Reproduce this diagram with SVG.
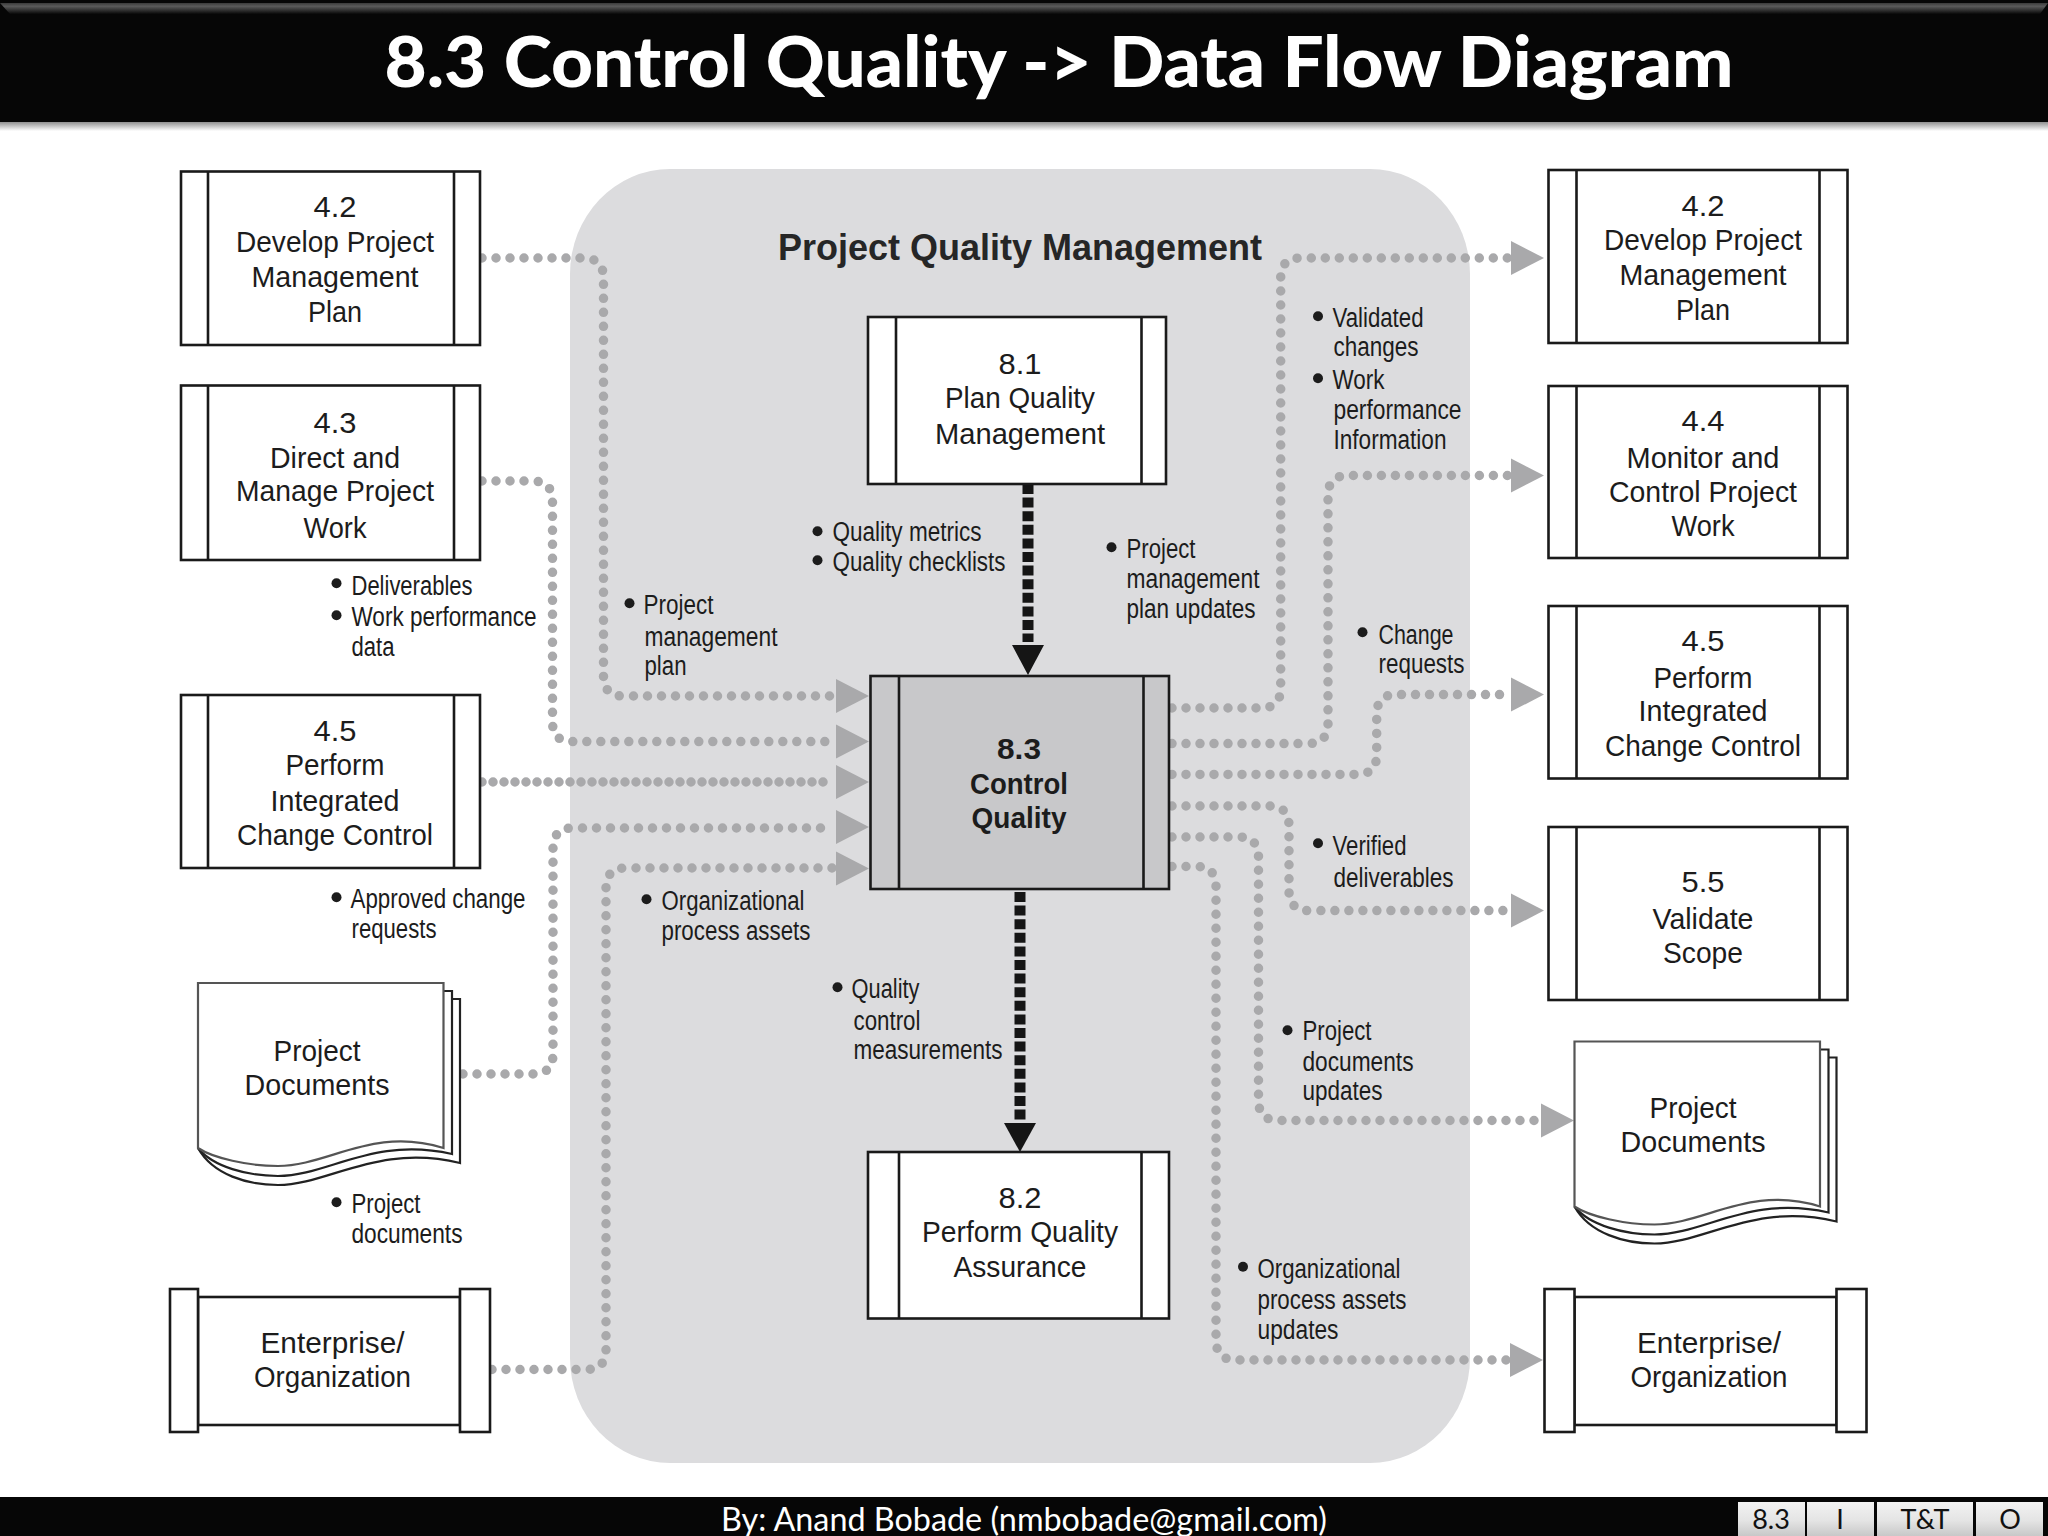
<svg xmlns="http://www.w3.org/2000/svg" xmlns:xlink="http://www.w3.org/1999/xlink" width="2048" height="1536" viewBox="0 0 2048 1536">
<style>
text{font-family:"Liberation Sans",Arial,sans-serif;fill:#1c1c1c}
.n{font-size:29px;text-anchor:middle}
.l{font-size:27px}
.b{font-weight:bold}
.box{fill:#fff;stroke:#1a1a1a;stroke-width:2.6}
.div{fill:none;stroke:#1a1a1a;stroke-width:2.6}
.flow{fill:none;stroke:#a9a9ab;stroke-width:9.5;stroke-linecap:round;stroke-dasharray:0 14}
.tri{fill:#a9a9ab}
.dark{fill:none;stroke:#151515;stroke-width:11;stroke-dasharray:10 3.600}
.tri2{fill:#151515}
.btn{fill:url(#btn)}
.bt{font-family:Lato,"Open Sans",sans-serif;font-size:27px;text-anchor:middle;fill:#111}
.page{fill:#fff;stroke:#222;stroke-width:2.2}
</style>
<defs>
<linearGradient id="btn" x1="0" y1="0" x2="0" y2="1"><stop offset="0" stop-color="#f2f2f2"/><stop offset="0.55" stop-color="#e4e4e4"/><stop offset="1" stop-color="#c8c8c8"/></linearGradient>
<linearGradient id="top" x1="0" y1="0" x2="0" y2="1"><stop offset="0" stop-color="#3a3a3a"/><stop offset="0.3" stop-color="#5a5a5a"/><stop offset="1" stop-color="#080808"/></linearGradient>
<linearGradient id="shadow" x1="0" y1="0" x2="0" y2="1"><stop offset="0" stop-color="#777"/><stop offset="1" stop-color="#fff"/></linearGradient>
<g id="doc">
<path class="page" d="M0 165 C15 192 50 202 80 202 C130 202 180 160 262 180 V16 H252"/>
<path class="page" d="M0 165 C15 184 50 193 80 193 C130 193 175 153 254 171 V8 H245"/>
<path class="page" d="M0 0 H245.500 V165 C175 143 130 183 80 183 C50 183 15 175 0 165 Z" style="stroke:#555"/>
</g>
</defs>
<rect width="2048" height="1536" fill="#fff"/>

<g id="header">
<rect x="0" y="120" width="2048" height="11" fill="url(#shadow)"/>
<rect x="0" y="0" width="2048" height="122" fill="#060606"/>
<path d="M0 3 H2048 L2040 14 H10 Z" fill="url(#top)"/>
<text x="1059" y="87" text-anchor="middle" textLength="1349" lengthAdjust="spacingAndGlyphs" style="font-family:Lato,'Open Sans',sans-serif;font-size:71px;font-weight:900;fill:#fff">8.3 Control Quality -&gt; Data Flow Diagram</text>
</g>

<g id="footer">
<rect x="0" y="1497" width="2048" height="39" fill="#060606"/>
<text x="1024" y="1531" text-anchor="middle" textLength="606" lengthAdjust="spacingAndGlyphs" style="font-family:Lato,'Open Sans',sans-serif;font-size:32px;fill:#fff">By: Anand Bobade (nmbobade@gmail.com)</text>
<rect class="btn" x="1738" y="1502" width="67" height="34"/><text class="bt" x="1771" y="1529">8.3</text>
<rect class="btn" x="1807" y="1502" width="67" height="34"/><text class="bt" x="1840" y="1529">I</text>
<rect class="btn" x="1877" y="1502" width="96" height="34"/><text class="bt" x="1925" y="1529">T&amp;T</text>
<rect class="btn" x="1976" y="1502" width="67" height="34"/><text class="bt" x="2010" y="1529">O</text>
</g>

<g id="group-project-quality-management">
<rect x="570" y="169" width="900" height="1294" rx="100" ry="105" fill="#dcdcde"/>
<text class="b" x="778" y="260" textLength="484" lengthAdjust="spacingAndGlyphs" style="font-size:36px;fill:#262626">Project Quality Management</text>
</g>

<g id="connectors">
<path class="flow" d="M482 258 H583 Q603.500 258 603.500 278 V676 Q603.500 696 623 696 H832"/>
<path class="flow" d="M482 481 H532 Q552.500 481 552.500 501 V722 Q552.500 741.600 572 741.600 H832"/>
<path class="flow" style="stroke-dasharray:0 11" d="M482 782 H832"/>
<path class="flow" d="M463 1074 H533 Q553 1074 553 1054 V848 Q553 828 573 828 H832"/>
<path class="flow" d="M492 1369.500 H586 Q606 1369.500 606 1349.500 V888 Q606 868 626 868 H832"/>
<path class="flow" d="M1172 708 H1261 Q1280.700 708 1280.700 688 V278 Q1280.700 258 1300 258 H1510"/>
<path class="flow" d="M1172 743.600 H1308 Q1328 743.600 1328 723.600 V495.500 Q1328 475.500 1348 475.500 H1510"/>
<path class="flow" d="M1172 774.400 H1357 Q1376.700 774.400 1376.700 754.400 V714.600 Q1376.700 694.600 1396 694.600 H1510"/>
<path class="flow" d="M1172 806 H1269 Q1289 806 1289 826 V890.600 Q1289 910.600 1309 910.600 H1510"/>
<path class="flow" d="M1172 837 H1238.500 Q1258.500 837 1258.500 857 V1100.500 Q1258.500 1120.500 1278.500 1120.500 H1540"/>
<path class="flow" d="M1172 866.500 H1196 Q1216 866.500 1216 886.500 V1340 Q1216 1360 1236 1360 H1510"/>
<path class="tri" d="M836 679 L869 696 L836 713Z"/>
<path class="tri" d="M836 724.600 L869 741.600 L836 758.600Z"/>
<path class="tri" d="M836 765 L869 782 L836 799Z"/>
<path class="tri" d="M836 810 L869 827 L836 844Z"/>
<path class="tri" d="M836 851.500 L869 868.500 L836 885.500Z"/>
<path class="tri" d="M1511 241 L1544 258 L1511 275Z"/>
<path class="tri" d="M1511 458.500 L1544 475.500 L1511 492.500Z"/>
<path class="tri" d="M1511 677.600 L1544 694.600 L1511 711.600Z"/>
<path class="tri" d="M1511 893.600 L1544 910.600 L1511 927.600Z"/>
<path class="tri" d="M1541 1103.500 L1574 1120.500 L1541 1137.500Z"/>
<path class="tri" d="M1510 1343 L1543 1360 L1510 1377Z"/>
<path class="dark" d="M1028 484 V642"/>
<path class="tri2" d="M1012 645 H1044 L1028 675Z"/>
<path class="dark" d="M1020 892 V1120"/>
<path class="tri2" d="M1004 1123 H1036 L1020 1152Z"/>
</g>

<g id="node-in-4-2">
<rect class="box" x="181" y="171.500" width="299" height="173.500"/><path class="div" d="M208 171.500V345M454 171.500V345"/>
<text class="n" x="335" y="217" textLength="43" lengthAdjust="spacingAndGlyphs">4.2</text>
<text class="n" x="335" y="252" textLength="198" lengthAdjust="spacingAndGlyphs">Develop Project</text>
<text class="n" x="335" y="287" textLength="167" lengthAdjust="spacingAndGlyphs">Management</text>
<text class="n" x="335" y="322" textLength="54" lengthAdjust="spacingAndGlyphs">Plan</text>
</g>
<g id="node-in-4-3">
<rect class="box" x="181" y="385.500" width="299" height="174.500"/><path class="div" d="M208 385.500V560M454 385.500V560"/>
<text class="n" x="335" y="433" textLength="43" lengthAdjust="spacingAndGlyphs">4.3</text>
<text class="n" x="335" y="468" textLength="130" lengthAdjust="spacingAndGlyphs">Direct and</text>
<text class="n" x="335" y="501" textLength="198" lengthAdjust="spacingAndGlyphs">Manage Project</text>
<text class="n" x="335" y="538" textLength="63" lengthAdjust="spacingAndGlyphs">Work</text>
</g>
<g id="node-in-4-5">
<rect class="box" x="181" y="695" width="299" height="173"/><path class="div" d="M208 695V868M454 695V868"/>
<text class="n" x="335" y="741" textLength="43" lengthAdjust="spacingAndGlyphs">4.5</text>
<text class="n" x="335" y="775" textLength="99" lengthAdjust="spacingAndGlyphs">Perform</text>
<text class="n" x="335" y="811" textLength="129" lengthAdjust="spacingAndGlyphs">Integrated</text>
<text class="n" x="335" y="845" textLength="196" lengthAdjust="spacingAndGlyphs">Change Control</text>
</g>
<g id="node-in-docs">
<use xlink:href="#doc" href="#doc" transform="translate(198 983)"/>
<text class="n" x="317" y="1061" textLength="87" lengthAdjust="spacingAndGlyphs">Project</text>
<text class="n" x="317" y="1095" textLength="145" lengthAdjust="spacingAndGlyphs">Documents</text>
</g>
<g id="node-in-enterprise">
<rect class="box" x="198" y="1297" width="262" height="128"/>
<rect class="box" x="170" y="1289" width="28" height="143"/><rect class="box" x="460" y="1289" width="30" height="143"/>
<text class="n" x="332.500" y="1353" textLength="144" lengthAdjust="spacingAndGlyphs">Enterprise/</text>
<text class="n" x="332.500" y="1387" textLength="157" lengthAdjust="spacingAndGlyphs">Organization</text>
</g>

<g id="node-8-1">
<rect class="box" x="868" y="317" width="298" height="167"/><path class="div" d="M896 317V484M1141.500 317V484"/>
<text class="n" x="1020" y="373.500" textLength="43" lengthAdjust="spacingAndGlyphs">8.1</text>
<text class="n" x="1020" y="407.500" textLength="150" lengthAdjust="spacingAndGlyphs">Plan Quality</text>
<text class="n" x="1020" y="443.500" textLength="170" lengthAdjust="spacingAndGlyphs">Management</text>
</g>
<g id="node-8-3">
<rect x="870.500" y="676" width="298.500" height="213" fill="#c8c8ca" stroke="#1a1a1a" stroke-width="2.600"/><path class="div" d="M899 676V889M1143.500 676V889"/>
<text class="n b" x="1019" y="759" textLength="44" lengthAdjust="spacingAndGlyphs">8.3</text>
<text class="n b" x="1019" y="794" textLength="98" lengthAdjust="spacingAndGlyphs">Control</text>
<text class="n b" x="1019" y="828" textLength="95" lengthAdjust="spacingAndGlyphs">Quality</text>
</g>
<g id="node-8-2">
<rect class="box" x="868" y="1152" width="301" height="166.500"/><path class="div" d="M899 1152V1318.500M1141.500 1152V1318.500"/>
<text class="n" x="1020" y="1208" textLength="43" lengthAdjust="spacingAndGlyphs">8.2</text>
<text class="n" x="1020" y="1242" textLength="196" lengthAdjust="spacingAndGlyphs">Perform Quality</text>
<text class="n" x="1020" y="1277" textLength="133" lengthAdjust="spacingAndGlyphs">Assurance</text>
</g>

<g id="node-out-4-2">
<rect class="box" x="1548.500" y="170" width="299" height="173"/><path class="div" d="M1576.500 170V343M1819.500 170V343"/>
<text class="n" x="1703" y="215.500" textLength="43" lengthAdjust="spacingAndGlyphs">4.2</text>
<text class="n" x="1703" y="250" textLength="198" lengthAdjust="spacingAndGlyphs">Develop Project</text>
<text class="n" x="1703" y="285" textLength="167" lengthAdjust="spacingAndGlyphs">Management</text>
<text class="n" x="1703" y="320" textLength="54" lengthAdjust="spacingAndGlyphs">Plan</text>
</g>
<g id="node-out-4-4">
<rect class="box" x="1548.500" y="386" width="299" height="172"/><path class="div" d="M1576.500 386V558M1819.500 386V558"/>
<text class="n" x="1703" y="431" textLength="43" lengthAdjust="spacingAndGlyphs">4.4</text>
<text class="n" x="1703" y="468" textLength="153" lengthAdjust="spacingAndGlyphs">Monitor and</text>
<text class="n" x="1703" y="501.500" textLength="188" lengthAdjust="spacingAndGlyphs">Control Project</text>
<text class="n" x="1703" y="536" textLength="63" lengthAdjust="spacingAndGlyphs">Work</text>
</g>
<g id="node-out-4-5">
<rect class="box" x="1548.500" y="606" width="299" height="172.500"/><path class="div" d="M1576.500 606V778.500M1819.500 606V778.500"/>
<text class="n" x="1703" y="651" textLength="43" lengthAdjust="spacingAndGlyphs">4.5</text>
<text class="n" x="1703" y="688" textLength="99" lengthAdjust="spacingAndGlyphs">Perform</text>
<text class="n" x="1703" y="721" textLength="129" lengthAdjust="spacingAndGlyphs">Integrated</text>
<text class="n" x="1703" y="756" textLength="196" lengthAdjust="spacingAndGlyphs">Change Control</text>
</g>
<g id="node-out-5-5">
<rect class="box" x="1548.500" y="827" width="299" height="173"/><path class="div" d="M1576.500 827V1000M1819.500 827V1000"/>
<text class="n" x="1703" y="892" textLength="43" lengthAdjust="spacingAndGlyphs">5.5</text>
<text class="n" x="1703" y="928.500" textLength="101" lengthAdjust="spacingAndGlyphs">Validate</text>
<text class="n" x="1703" y="963" textLength="80" lengthAdjust="spacingAndGlyphs">Scope</text>
</g>
<g id="node-out-docs">
<use xlink:href="#doc" href="#doc" transform="translate(1574.500 1041.500)"/>
<text class="n" x="1693" y="1118" textLength="87" lengthAdjust="spacingAndGlyphs">Project</text>
<text class="n" x="1693" y="1152" textLength="145" lengthAdjust="spacingAndGlyphs">Documents</text>
</g>
<g id="node-out-enterprise">
<rect class="box" x="1574.500" y="1297" width="262" height="128"/>
<rect class="box" x="1544.500" y="1289" width="30" height="143"/><rect class="box" x="1836.500" y="1289" width="30" height="143"/>
<text class="n" x="1709" y="1353" textLength="144" lengthAdjust="spacingAndGlyphs">Enterprise/</text>
<text class="n" x="1709" y="1387" textLength="157" lengthAdjust="spacingAndGlyphs">Organization</text>
</g>

<g id="labels" fill="#1c1c1c" transform="translate(-0.500 -0.800)">
<circle cx="337" cy="584" r="5"/><circle cx="337" cy="616" r="5"/>
<text class="l" x="352" y="596" textLength="121" lengthAdjust="spacingAndGlyphs">Deliverables</text>
<text class="l" x="352" y="627" textLength="185" lengthAdjust="spacingAndGlyphs">Work performance</text>
<text class="l" x="352" y="657" textLength="43" lengthAdjust="spacingAndGlyphs">data</text>
<circle cx="630" cy="604" r="5"/>
<text class="l" x="644" y="615" textLength="70" lengthAdjust="spacingAndGlyphs">Project</text>
<text class="l" x="645" y="647" textLength="133" lengthAdjust="spacingAndGlyphs">management</text>
<text class="l" x="645" y="676" textLength="42" lengthAdjust="spacingAndGlyphs">plan</text>
<circle cx="818" cy="532" r="5"/><circle cx="818" cy="561" r="5"/>
<text class="l" x="833" y="542" textLength="149" lengthAdjust="spacingAndGlyphs">Quality metrics</text>
<text class="l" x="833" y="572" textLength="173" lengthAdjust="spacingAndGlyphs">Quality checklists</text>
<circle cx="1318.500" cy="317" r="5"/><circle cx="1318.500" cy="379" r="5"/>
<text class="l" x="1333" y="328" textLength="91" lengthAdjust="spacingAndGlyphs">Validated</text>
<text class="l" x="1334" y="357" textLength="85" lengthAdjust="spacingAndGlyphs">changes</text>
<text class="l" x="1333" y="390" textLength="52" lengthAdjust="spacingAndGlyphs">Work</text>
<text class="l" x="1334" y="420" textLength="128" lengthAdjust="spacingAndGlyphs">performance</text>
<text class="l" x="1334" y="450" textLength="113" lengthAdjust="spacingAndGlyphs">Information</text>
<circle cx="1112" cy="548" r="5"/>
<text class="l" x="1127" y="559" textLength="69" lengthAdjust="spacingAndGlyphs">Project</text>
<text class="l" x="1127" y="589" textLength="133" lengthAdjust="spacingAndGlyphs">management</text>
<text class="l" x="1127" y="619" textLength="129" lengthAdjust="spacingAndGlyphs">plan updates</text>
<circle cx="1363" cy="633" r="5"/>
<text class="l" x="1379" y="645" textLength="75" lengthAdjust="spacingAndGlyphs">Change</text>
<text class="l" x="1379" y="674" textLength="86" lengthAdjust="spacingAndGlyphs">requests</text>
<circle cx="337" cy="898" r="5"/>
<text class="l" x="351" y="909" textLength="175" lengthAdjust="spacingAndGlyphs">Approved change</text>
<text class="l" x="352" y="939" textLength="85" lengthAdjust="spacingAndGlyphs">requests</text>
<circle cx="647" cy="900" r="5"/>
<text class="l" x="662" y="911" textLength="143" lengthAdjust="spacingAndGlyphs">Organizational</text>
<text class="l" x="662" y="941" textLength="149" lengthAdjust="spacingAndGlyphs">process assets</text>
<circle cx="838" cy="988" r="5"/>
<text class="l" x="852" y="999" textLength="68" lengthAdjust="spacingAndGlyphs">Quality</text>
<text class="l" x="854" y="1031" textLength="67" lengthAdjust="spacingAndGlyphs">control</text>
<text class="l" x="854" y="1060" textLength="149" lengthAdjust="spacingAndGlyphs">measurements</text>
<circle cx="337" cy="1203" r="5"/>
<text class="l" x="352" y="1214" textLength="69" lengthAdjust="spacingAndGlyphs">Project</text>
<text class="l" x="352" y="1244" textLength="111" lengthAdjust="spacingAndGlyphs">documents</text>
<circle cx="1318.500" cy="844" r="5"/>
<text class="l" x="1333" y="856" textLength="74" lengthAdjust="spacingAndGlyphs">Verified</text>
<text class="l" x="1334" y="888" textLength="120" lengthAdjust="spacingAndGlyphs">deliverables</text>
<circle cx="1288" cy="1031" r="5"/>
<text class="l" x="1303" y="1041" textLength="69" lengthAdjust="spacingAndGlyphs">Project</text>
<text class="l" x="1303" y="1072" textLength="111" lengthAdjust="spacingAndGlyphs">documents</text>
<text class="l" x="1303" y="1101" textLength="80" lengthAdjust="spacingAndGlyphs">updates</text>
<circle cx="1243.500" cy="1267.500" r="5"/>
<text class="l" x="1258" y="1279" textLength="143" lengthAdjust="spacingAndGlyphs">Organizational</text>
<text class="l" x="1258" y="1310" textLength="149" lengthAdjust="spacingAndGlyphs">process assets</text>
<text class="l" x="1258" y="1340" textLength="81" lengthAdjust="spacingAndGlyphs">updates</text>
</g>
</svg>
